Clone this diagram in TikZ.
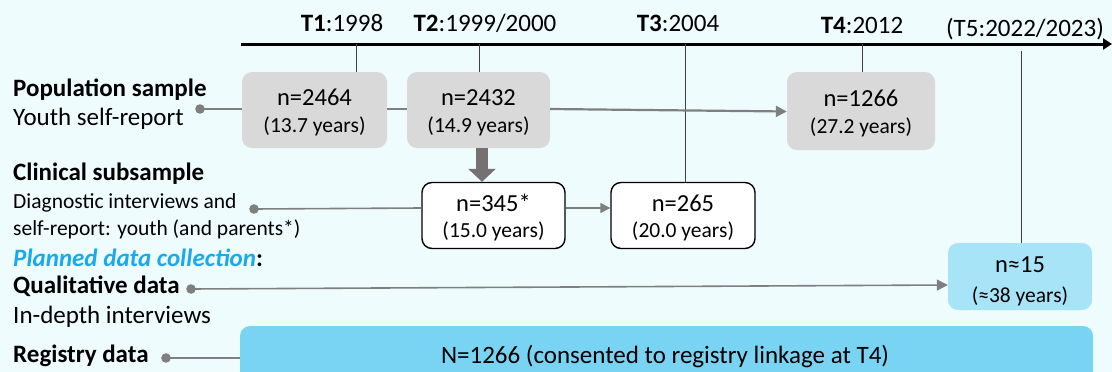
\documentclass[tikz,border=0pt]{standalone}
\usepackage{fontspec}
\setmainfont{Carlito}
\usetikzlibrary{arrows.meta}
\definecolor{bgc}{HTML}{EEFCFE}
\definecolor{boxgray}{HTML}{D9D9D9}
\definecolor{linegray}{HTML}{7F7F7F}
\definecolor{darkarrow}{HTML}{767171}
\definecolor{planblue}{HTML}{1AAAEB}
\definecolor{lightblue}{HTML}{A8E4F7}
\definecolor{regblue}{HTML}{79D4F4}
\newcommand{\lbltxt}{\fontsize{25}{30}\selectfont}
\newcommand{\bigtxt}{\fontsize{24.5}{29}\selectfont}
\newcommand{\smalltxt}{\fontsize{21.5}{26}\selectfont}
\tikzset{
  popbox/.style={fill=boxgray, draw=none, rounded corners=10pt, inner sep=0pt},
  clinbox/.style={fill=white, draw=black, line width=1.4pt, rounded corners=10pt, inner sep=0pt},
  qualbox/.style={fill=lightblue, draw=none, rounded corners=10pt, inner sep=0pt},
  maintxt/.style={font=\bigtxt, anchor=base, inner sep=0pt},
  subtxt/.style={font=\smalltxt, anchor=base, inner sep=0pt},
  tlabel/.style={font=\lbltxt, anchor=base, inner sep=0pt},
  rowlabel/.style={anchor=base west, inner sep=0pt},
  conn/.style={draw=linegray, line width=2pt},
  dotc/.style={fill=linegray, draw=none},
  tick/.style={draw=black!75, line width=1pt},
}
\begin{document}
\begin{tikzpicture}[x=1pt,y=-1pt]
\useasboundingbox (0,0) rectangle (1112,372);
\clip (0,0) rectangle (1112,372);
\fill[bgc] (0,0) rectangle (1112,372);

% timeline
\coordinate (tlstart) at (241,44);
\coordinate (tlend) at (1112,44);
\draw[line width=3pt, -{Triangle[length=9pt,width=11pt]}] (tlstart) -- (tlend);
\node[tlabel] (l1) at (342,31) {\textbf{T1}:1998};
\node[tlabel] (l2) at (485,31) {\textbf{T2}:1999/2000};
\node[tlabel] (l3) at (678,31) {\textbf{T3}:2004};
\node[tlabel] (l4) at (862,33) {\textbf{T4}:2012};
\node[tlabel] (l5) at (1025,36) {(T5:2022/2023)};

% population boxes
\node[popbox, minimum width=145pt, minimum height=76pt] (b1) at (314.5,110) {};
\node[maintxt] (b1a) at (b1.center |- 0,105) {n=2464};
\node[subtxt] (b1b) at (b1.center |- 0,132.5) {(13.7 years)};
\node[popbox, minimum width=143pt, minimum height=76pt] (b2) at (478.5,110) {};
\node[maintxt] (b2a) at (b2.center |- 0,105) {n=2432};
\node[subtxt] (b2b) at (b2.center |- 0,132.5) {(14.9 years)};
\node[popbox, minimum width=148pt, minimum height=78pt] (b4) at (861,111) {};
\node[maintxt] (b4a) at (b4.center |- 0,106.5) {n=1266};
\node[subtxt] (b4b) at (b4.center |- 0,133.5) {(27.2 years)};

% clinical boxes
\node[clinbox, minimum width=143pt, minimum height=66pt] (c2) at (493.5,215.5) {};
\node[maintxt] (c2a) at (c2.center |- 0,211) {n=345*};
\node[subtxt] (c2b) at (c2.center |- 0,237) {(15.0 years)};
\node[clinbox, minimum width=144pt, minimum height=66pt] (c3) at (683,215.5) {};
\node[maintxt] (c3a) at (c3.center |- 0,211) {n=265};
\node[subtxt] (c3b) at (c3.center |- 0,237) {(20.0 years)};

% qualitative box
\node[qualbox, minimum width=144pt, minimum height=67pt] (q5) at (1020,276.5) {};
\node[maintxt] (q5a) at (q5.center |- 0,272) {n≈15};
\node[subtxt] (q5b) at (q5.center |- 0,302) {(≈38 years)};

% registry box
\node[fill=regblue, rounded corners=10pt, minimum width=853pt, minimum height=80pt, inner sep=0pt] (reg) at (666.5,366) {};
\node[tlabel] (regtxt) at (665,363) {N=1266 (consented to registry linkage at T4)};

% ticks
\coordinate (t1) at (356,44);
\coordinate (t2) at (479,44);
\coordinate (t3) at (685,44);
\coordinate (t4) at (862,44);
\coordinate (t5) at (1021,51);
\draw[tick] (t1) -- (t1 |- b1.north);
\draw[tick] (t2) -- (t2 |- b2.north);
\draw[tick] (t3) -- (t3 |- c3.north);
\draw[tick] (t4) -- (t4 |- b4.north);
\draw[tick] (t5) -- (t5 |- q5.north);

% row labels
\node[rowlabel, font=\lbltxt\bfseries] (pop) at (13,96) {Population sample};
\node[rowlabel, font=\lbltxt] (popsub) at (13,125) {Youth self-report};
\node[rowlabel, font=\lbltxt\bfseries] (clin) at (13,180) {Clinical subsample};
\node[rowlabel, font=\smalltxt] (clin1) at (13,208) {Diagnostic interviews and};
\node[rowlabel, font=\smalltxt] (clin2) at (13,235) {self-report: youth (and parents*)};
\node[rowlabel, font=\lbltxt\bfseries] (plan) at (13,266) {\textcolor{planblue}{\textit{Planned data collection}}:};
\node[rowlabel, font=\lbltxt\bfseries] (qual) at (13,293) {Qualitative data};
\node[rowlabel, font=\lbltxt] (qualsub) at (13,323) {In-depth interviews};
\node[rowlabel, font=\lbltxt\bfseries] (regl) at (13,362) {Registry data};

% dots
\coordinate (d1) at (200,109);
\coordinate (d2) at (254,209);
\coordinate (d3) at (191,289);
\coordinate (d4) at (166,358);
\fill[dotc] (d1) circle (4.8pt);
\fill[dotc] (d2) circle (4.8pt);
\fill[dotc] (d3) circle (4.8pt);
\fill[dotc] (d4) circle (4.8pt);

% connectors
\draw[conn] (d1) -- (d1 -| b1.west);
\draw[conn, line width=2.8pt] (b1.east |- d1) -- (b2.west |- d1);
\draw[conn, line width=2.2pt, -{Triangle[length=11pt,width=11pt]}] (b2.east |- d1) -- (b4.west |- 0,111.5);
\draw[conn, line width=1.6pt] (d2) -- (c2.west |- 0,208);
\draw[conn, line width=1.6pt, -{Triangle[length=10pt,width=10pt]}] (c2.east |- 0,208) -- (c3.west |- 0,208);
\draw[conn, line width=1.6pt, -{Triangle[length=11pt,width=11pt]}] (d3) -- (q5.west |- 0,285);
\draw[conn, line width=1.6pt] (d4) -- (d4 -| reg.west);
\draw[darkarrow, line width=12pt, -{Triangle[length=13pt,width=27pt]}] (b2.south -| 482,0) -- (c2.north -| 482,0);
\end{tikzpicture}
\end{document}
